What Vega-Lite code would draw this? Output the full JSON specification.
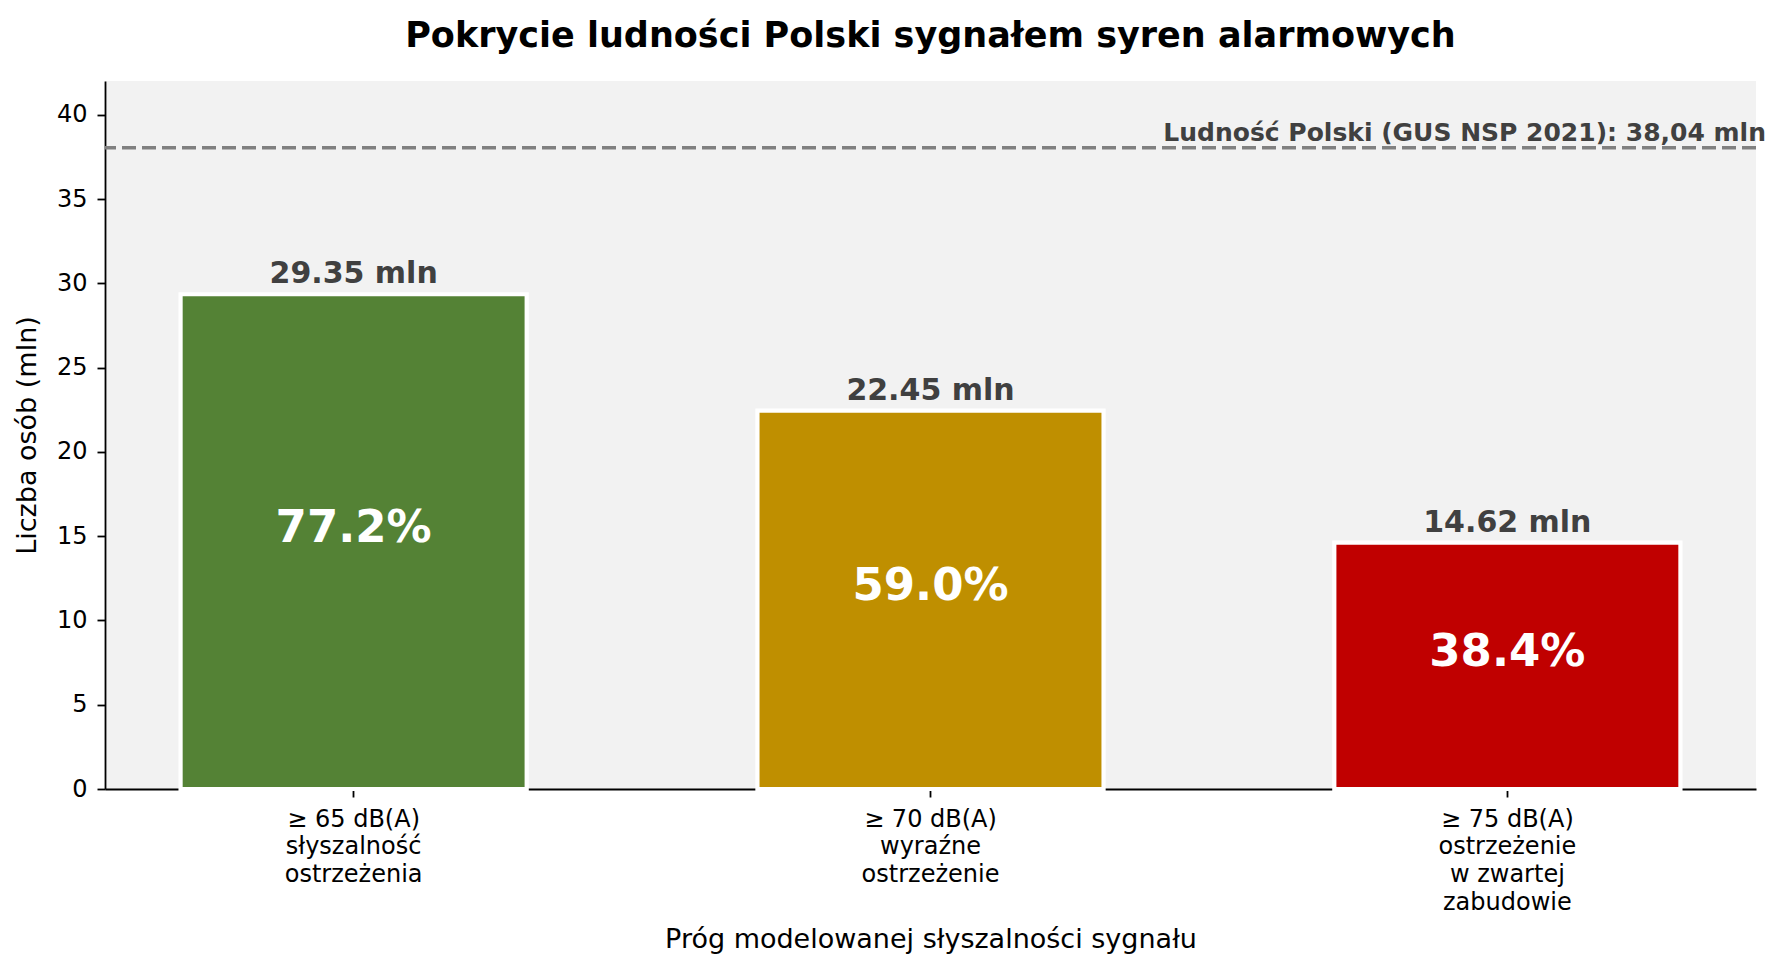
{
  "$schema": "https://vega.github.io/schema/vega-lite/v6.json",
  "autosize": {"type": "none"},
  "width": 1651,
  "height": 708,
  "padding": {"left": 105, "top": 81, "right": 29, "bottom": 183},
  "background": "white",
  "title": {
    "text": "Pokrycie ludności Polski sygnałem syren alarmowych",
    "font": "DejaVu Sans",
    "fontSize": 35,
    "fontWeight": "bold",
    "color": "black",
    "anchor": "middle",
    "frame": "group",
    "baseline": "alphabetic",
    "offset": -1
  },
  "datasets": {
    "progi": [
      {"prog": "≥ 65 dB(A)|słyszalność|ostrzeżenia", "mln": 29.35, "udzial": 0.772},
      {"prog": "≥ 70 dB(A)|wyraźne|ostrzeżenie", "mln": 22.45, "udzial": 0.59},
      {"prog": "≥ 75 dB(A)|ostrzeżenie|w zwartej|zabudowie", "mln": 14.62, "udzial": 0.384}
    ],
    "ludnosc": [
      {"mln": 38.04, "opis": "Ludność Polski (GUS NSP 2021): 38,04 mln"}
    ]
  },
  "layer": [
    {
      "data": {"name": "progi"},
      "mark": {"type": "bar", "stroke": "white", "strokeWidth": 4.2},
      "encoding": {
        "x": {
          "field": "prog", "type": "nominal", "sort": null,
          "title": "Próg modelowanej słyszalności sygnału",
          "scale": {"paddingInner": 0.4, "paddingOuter": 0.131},
          "axis": {"labelExpr": "split(datum.label, '|')", "labelAngle": 0}
        },
        "y": {
          "field": "mln", "type": "quantitative",
          "title": "Liczba osób (mln)",
          "scale": {"domain": [0, 42], "nice": false},
          "axis": {"values": [0, 5, 10, 15, 20, 25, 30, 35, 40]}
        },
        "color": {
          "field": "prog", "type": "nominal", "sort": null,
          "scale": {"range": ["#548235", "#BF8F00", "#C00000"]},
          "legend": null
        }
      }
    },
    {
      "data": {"name": "progi"},
      "transform": [{"calculate": "format(datum.mln, '.2f') + ' mln'", "as": "etykieta"}],
      "mark": {
        "type": "text", "baseline": "alphabetic", "dy": -11,
        "font": "DejaVu Sans", "fontSize": 30, "fontWeight": "bold", "color": "#404040"
      },
      "encoding": {
        "x": {"field": "prog", "type": "nominal", "sort": null, "title": "Próg modelowanej słyszalności sygnału"},
        "y": {"field": "mln", "type": "quantitative", "title": "Liczba osób (mln)"},
        "text": {"field": "etykieta"}
      }
    },
    {
      "data": {"name": "progi"},
      "transform": [{"calculate": "datum.mln / 2", "as": "srodek"}],
      "mark": {
        "type": "text", "baseline": "alphabetic",
        "font": "DejaVu Sans", "fontSize": 45, "fontWeight": "bold", "color": "white"
      },
      "encoding": {
        "x": {"field": "prog", "type": "nominal", "sort": null, "title": "Próg modelowanej słyszalności sygnału"},
        "y": {"field": "srodek", "type": "quantitative", "title": "Liczba osób (mln)"},
        "text": {"field": "udzial", "format": ".1%"}
      }
    },
    {
      "data": {"name": "ludnosc"},
      "mark": {"type": "rule", "color": "#808080", "strokeWidth": 3.5, "strokeDash": [14, 6]},
      "encoding": {
        "y": {"field": "mln", "type": "quantitative", "title": "Liczba osób (mln)"}
      }
    },
    {
      "data": {"name": "ludnosc"},
      "mark": {
        "type": "text", "align": "right", "baseline": "alphabetic", "dx": 10, "dy": -7,
        "font": "DejaVu Sans", "fontSize": 25, "fontWeight": "bold", "color": "#404040"
      },
      "encoding": {
        "x": {"value": "width"},
        "y": {"field": "mln", "type": "quantitative", "title": "Liczba osób (mln)"},
        "text": {"field": "opis"}
      }
    }
  ],
  "config": {
    "view": {"fill": "#f2f2f2", "stroke": null},
    "axis": {
      "grid": false,
      "domainColor": "black",
      "domainWidth": 1.8,
      "tickColor": "black",
      "tickWidth": 1.8,
      "tickSize": 8,
      "labelFont": "DejaVu Sans",
      "labelFontSize": 24,
      "labelColor": "black",
      "labelPadding": 10,
      "titleFont": "DejaVu Sans",
      "titleFontSize": 27,
      "titleFontWeight": "normal",
      "titleColor": "black"
    },
    "axisX": {"labelLineHeight": 27.7, "titlePadding": 12},
    "axisY": {"titlePadding": 15}
  }
}
